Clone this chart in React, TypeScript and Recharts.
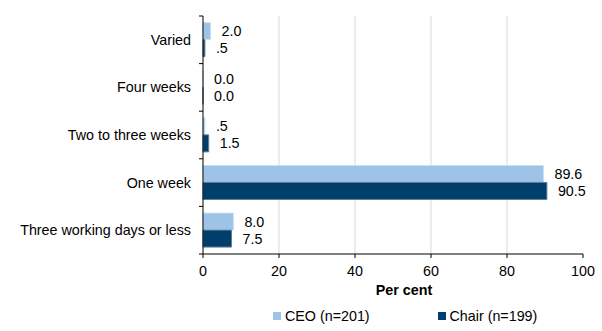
import { BarChart, Bar, XAxis, YAxis, CartesianGrid, Legend, LabelList } from 'recharts';

const categories = ['Varied', 'Four weeks', 'Two to three weeks', 'One week', 'Three working days or less'];
const ceoValues = [2.0, 0.0, 0.5, 89.6, 8.0];
const chairValues = [0.5, 0.0, 1.5, 90.5, 7.5];
const xTicks = [0, 20, 40, 60, 80, 100];
const gridValues = [20, 40, 60, 80];
const xDomain = [0, 100];
const seriesNames = ['CEO (n=201)', 'Chair (n=199)'];
const colors = ['#9dc3e6', '#003f6b'];

const data = categories.map((name, i) => ({
  name,
  ceo: ceoValues[i],
  chair: chairValues[i],
}));

const FONT = 'Arial, "Liberation Sans", sans-serif';
const FS = 14.3;

const fmt = (v: any) => {
  const n = Number(v);
  if (n === 0) return '0.0';
  return n.toFixed(1).replace(/^0\./, '.');
};

// tiny non-zero size so zero bars still get their label
const minSize = (v: any) => (Number(v) === 0 ? 0.01 : 0);

const gridGen = (props: any) => {
  const off = props && props.offset;
  if (!off) return [];
  return gridValues.map(
    (v) => off.left + ((v - xDomain[0]) / (xDomain[1] - xDomain[0])) * off.width
  );
};

const CategoryTick = (props: any) => {
  const { x, y, payload, index, visibleTicksCount } = props;
  const half = payload && payload.offset ? payload.offset : 23.8;
  const lx = x + 8;
  return (
    <g>
      <text x={x} y={y} dy={5} textAnchor="end" fontSize={FS} fontFamily={FONT} fill="#000">
        {payload.value}
      </text>
      <line x1={lx} x2={lx + 4} y1={y - half} y2={y - half} stroke="#000" />
      {index === visibleTicksCount - 1 && (
        <line x1={lx} x2={lx + 4} y1={y + half} y2={y + half} stroke="#000" />
      )}
    </g>
  );
};

const renderLegend = () => (
  <div style={{ display: 'flex', paddingLeft: 273, height: 20, alignItems: 'center', fontFamily: FONT, fontSize: FS, color: '#000' }}>
    {seriesNames.map((s, i) => (
      <div key={s} style={{ display: 'flex', alignItems: 'center', width: 165 }}>
        <span style={{ display: 'inline-block', width: 8, height: 8, background: colors[i], marginRight: 4 }} />
        <span>{s}</span>
      </div>
    ))}
  </div>
);

export default function App() {
  return (
    <div style={{ position: 'absolute', left: 0, top: 0, background: '#fff' }}>
      <BarChart
        width={602}
        height={331}
        data={data}
        layout="vertical"
        margin={{ top: 16, right: 19, left: 0, bottom: 5 }}
        barCategoryGap="14%"
        barGap={0}
      >
        <CartesianGrid horizontal={false} stroke="#d9d9d9" verticalCoordinatesGenerator={gridGen} />
        <XAxis
          type="number"
          domain={xDomain}
          ticks={xTicks}
          tickSize={4}
          tickMargin={8}
          height={52}
          stroke="#000"
          tick={{ fill: '#000', fontSize: FS, fontFamily: FONT }}
          label={{ value: 'Per cent', position: 'insideTop', offset: 31, dx: 11, fill: '#000', fontSize: FS, fontWeight: 'bold', fontFamily: FONT }}
        />
        <YAxis
          type="category"
          dataKey="name"
          width={203}
          tickSize={4}
          tickMargin={8}
          tickLine={false}
          stroke="#000"
          tick={<CategoryTick />}
          interval={0}
        />
        <Legend verticalAlign="bottom" content={renderLegend} wrapperStyle={{ width: 602, left: 0 }} />
        <Bar dataKey="ceo" name={seriesNames[0]} fill={colors[0]} stroke="#c9e0f4" strokeWidth={1} minPointSize={minSize} isAnimationActive={false}>
          <LabelList dataKey="ceo" position="right" offset={11} formatter={fmt} fill="#000" fontSize={FS} fontFamily={FONT} />
        </Bar>
        <Bar dataKey="chair" name={seriesNames[1]} fill={colors[1]} stroke="#5f7f9b" strokeWidth={1} minPointSize={minSize} isAnimationActive={false}>
          <LabelList dataKey="chair" position="right" offset={11} formatter={fmt} fill="#000" fontSize={FS} fontFamily={FONT} />
        </Bar>
      </BarChart>
    </div>
  );
}
